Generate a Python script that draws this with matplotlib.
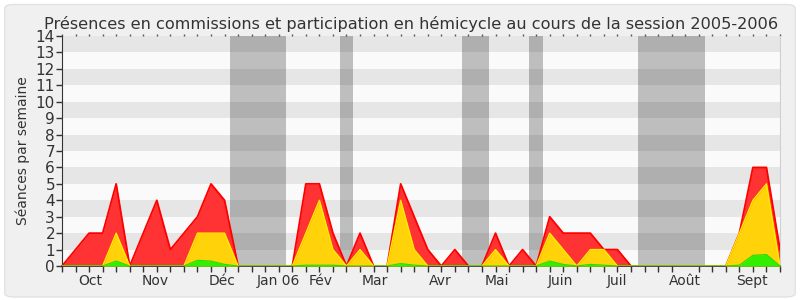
import matplotlib
matplotlib.use("Agg")
import matplotlib.pyplot as plt
from matplotlib.patches import FancyBboxPatch
import numpy as np

weeks = list(range(54))
hemicycle_total = [0, 1, 2, 2, 5, 0, 2, 4, 1, 2, 3, 5, 4, 0, 0, 0, 0, 0, 5, 5,
                   2, 0, 2, 0, 0, 5, 3, 1, 0, 1, 0, 0, 2, 0, 1, 0, 3, 2, 2, 2,
                   1, 1, 0, 0, 0, 0, 0, 0, 0, 0, 2, 6, 6, 1]
interventions = [0, 0, 0, 0, 2, 0, 0, 0, 0, 0, 2, 2, 2, 0, 0, 0, 0, 0, 2, 4,
                 1, 0, 1, 0, 0, 4, 1, 0, 0, 0, 0, 0, 1, 0, 0, 0, 2, 1, 0, 1,
                 1, 0, 0, 0, 0, 0, 0, 0, 0, 0, 2, 4, 5, 0]
commissions = [0, 0, 0, 0, 0.3, 0, 0, 0, 0, 0, 0.35, 0.3, 0.1, 0, 0, 0, 0, 0, 0.05, 0.05,
               0.05, 0, 0, 0, 0, 0.15, 0.05, 0, 0, 0, 0, 0, 0, 0, 0, 0, 0.3, 0.1, 0, 0.1,
               0.05, 0, 0, 0, 0, 0, 0, 0, 0, 0, 0.05, 0.65, 0.7, 0]
vacances = [(12.4, 16.5), (20.5, 21.5), (29.5, 31.5), (34.5, 35.5), (42.5, 47.5)]
month_pos = [2.09, 6.88, 11.83, 15.96, 19.06, 23.1, 27.9, 32.1, 36.8, 40.97, 46.0, 50.9]
month_labels = ["Oct", "Nov", "Déc", "Jan 06", "Fév", "Mar", "Avr", "Mai", "Juin", "Juil", "Août", "Sept"]
ymax = 14

fig = plt.figure(figsize=(8, 3), dpi=100, facecolor="#ffffff")
bg = FancyBboxPatch((0.006, 0.01), 0.988, 0.975, boxstyle="round,pad=0,rounding_size=0.012",
                    transform=fig.transFigure, facecolor="#f0f0f0", edgecolor="#e2e2e2",
                    linewidth=1, zorder=-10)
fig.patches.append(bg)

ax = fig.add_axes([0.0775, 0.1133, 0.8975, 0.7667])
ax.set_zorder(1)
ax.set_facecolor("#fafafa")
for k in range(1, ymax, 2):
    ax.axhspan(k, k + 1, color="#e6e6e6", zorder=0, lw=0)
for a, b in vacances:
    ax.axvspan(a, b, color="#000000", alpha=0.24, zorder=1, lw=0)

x = np.array(weeks)
ax.fill_between(x, 0, hemicycle_total, color="#ff3333", lw=0, zorder=2)
ax.plot(x, hemicycle_total, color="#ff0000", lw=1.3, zorder=3)
ax.fill_between(x, 0, interventions, color="#ffd20a", lw=0, zorder=4)
ax.plot(x, interventions, color="#ffee00", lw=1.0, zorder=5)
ax.fill_between(x, 0, commissions, color="#33ee00", lw=0, zorder=6)
ax.plot(x, commissions, color="#22dd00", lw=0.8, zorder=7)

ax.set_xlim(0, 53)
ax.set_ylim(0, ymax)
ax.set_yticks(range(0, ymax + 1))
ax.tick_params(axis="y", which="major", length=4, width=1, color="#333333",
               labelsize=11, labelcolor="#333333", pad=1)
ax.set_xticks(month_pos)
ax.set_xticklabels(month_labels)
ax.tick_params(axis="x", which="major", length=0, labelsize=10, labelcolor="#333333", pad=6)
ax.set_xticks(weeks, minor=True)
ax.tick_params(axis="x", which="minor", length=4, width=1, color="#333333",
               top=False, bottom=True)

sec = ax.secondary_xaxis("top")
sec.set_xticks(weeks)
sec.set_xticklabels([])
sec.tick_params(length=1.5, width=1, color="#555555")
sec.spines["top"].set_visible(False)

ax.set_ylabel("Séances par semaine", fontsize=10, color="#333333", labelpad=4)
fig.text(0.514, 0.905,
         "Présences en commissions et participation en hémicycle au cours de la session 2005-2006",
         fontsize=11.6, color="#333333", ha="center", va="baseline")
ax.spines["top"].set_visible(False)
ax.spines["right"].set_color("#d0d0d0")
ax.spines["left"].set_color("#333333")
ax.spines["bottom"].set_color("#333333")
ax.spines["bottom"].set_linewidth(1.2)

fig.savefig("out.png", dpi=100, facecolor=fig.get_facecolor())
